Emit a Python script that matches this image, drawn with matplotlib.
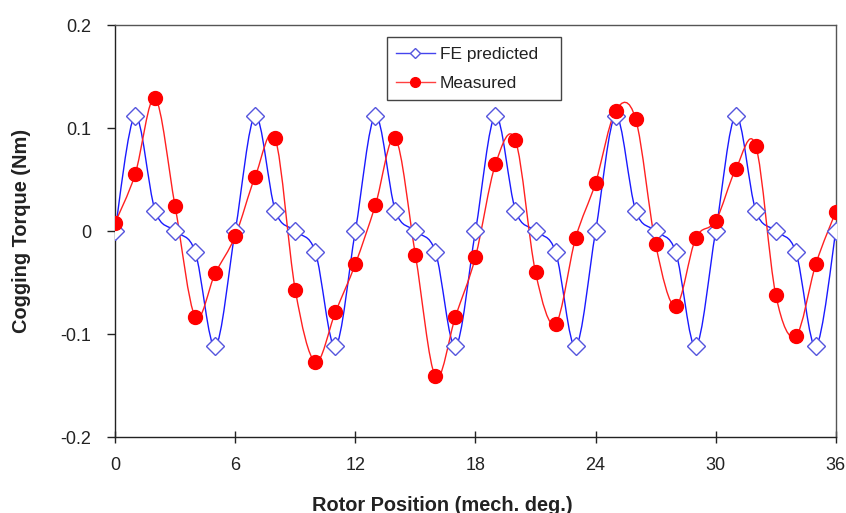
import matplotlib
matplotlib.use("Agg")
import matplotlib.pyplot as plt
from matplotlib.path import Path
from matplotlib.patches import PathPatch
import numpy as np

plt.rcParams['font.family'] = ['Liberation Sans', 'DejaVu Sans']

positions = list(range(0, 37))
fe_predicted = [0.0, 0.112, 0.02, 0.0, -0.02, -0.112,
                0.0, 0.112, 0.02, 0.0, -0.02, -0.112,
                0.0, 0.112, 0.02, 0.0, -0.02, -0.112,
                0.0, 0.112, 0.02, 0.0, -0.02, -0.112,
                0.0, 0.112, 0.02, 0.0, -0.02, -0.112,
                0.0, 0.112, 0.02, 0.0, -0.02, -0.112,
                0.0]
measured = [0.008, 0.055, 0.129, 0.024, -0.083, -0.041,
            -0.005, 0.053, 0.090, -0.057, -0.127, -0.079,
            -0.032, 0.025, 0.090, -0.023, -0.141, -0.083,
            -0.025, 0.065, 0.088, -0.040, -0.090, -0.007,
            0.047, 0.117, 0.109, -0.013, -0.073, -0.007,
            0.010, 0.060, 0.083, -0.062, -0.102, -0.032,
            0.019]
x_ticks = [0, 6, 12, 18, 24, 30, 36]
y_ticks = [-0.2, -0.1, 0, 0.1, 0.2]
y_tick_labels = ["-0.2", "-0.1", "0", "0.1", "0.2"]


def smooth_path(xs, ys):
    pts = np.column_stack([xs, ys]).astype(float)
    n = len(pts)
    verts = [pts[0]]
    codes = [Path.MOVETO]
    for i in range(n - 1):
        p0 = pts[i - 1] if i > 0 else pts[i]
        p1 = pts[i]
        p2 = pts[i + 1]
        p3 = pts[i + 2] if i + 2 < n else pts[i + 1]
        c1 = p1 + (p2 - p0) / 6.0
        c2 = p2 - (p3 - p1) / 6.0
        verts += [c1, c2, p2]
        codes += [Path.CURVE4] * 3
    return Path(verts, codes)


fig = plt.figure(figsize=(8.46, 5.13), dpi=100)
ax = fig.add_axes([0.136, 0.148, 0.852, 0.803])

ax.add_patch(PathPatch(smooth_path(positions, fe_predicted), facecolor='none',
                       edgecolor='#1a1aff', lw=1.0, zorder=2))
ax.add_patch(PathPatch(smooth_path(positions, measured), facecolor='none',
                       edgecolor='#ff2020', lw=1.0, zorder=2))
ax.plot(positions, fe_predicted, linestyle='none', marker='D', markersize=9,
        markerfacecolor='white', markeredgecolor='#5555dd', markeredgewidth=1.0,
        zorder=3)
ax.plot(positions, measured, linestyle='none', marker='o', markersize=10,
        markerfacecolor='#ff0000', markeredgecolor='#ff0000', zorder=4)

# legend proxies
h1, = ax.plot([], [], color='#4444ee', lw=1.0, marker='D', markersize=5,
              markerfacecolor='white', markeredgecolor='#5555dd')
h2, = ax.plot([], [], color='#ff4040', lw=1.0, marker='o', markersize=7,
              markerfacecolor='#ff0000', markeredgecolor='#ff0000')
leg = ax.legend([h1, h2], ['FE predicted', 'Measured'], loc='upper left',
                bbox_to_anchor=(0.377, 0.971, 0.241, 0.0), mode='expand',
                borderaxespad=0.0, frameon=True, fancybox=False,
                edgecolor='#444444', fontsize=12.5, handlelength=2.2,
                handletextpad=0.3, borderpad=0.55, labelspacing=0.8,
                framealpha=1)
leg.get_frame().set_linewidth(1.0)
for t in leg.get_texts():
    t.set_color('#222222')

ax.set_xlim(0, 36)
ax.set_ylim(-0.2, 0.2)
ax.set_xticks(x_ticks)
ax.set_yticks(y_ticks)
ax.set_yticklabels(y_tick_labels)
ax.tick_params(axis='x', direction='inout', length=8, width=1, labelsize=13,
               pad=10, colors='#222222')
ax.tick_params(axis='y', direction='out', length=6, width=1, labelsize=13,
               pad=11, colors='#222222')
for s in ax.spines.values():
    s.set_color('#555555')
    s.set_linewidth(1.0)
ax.spines['left'].set_color('#222222')
ax.spines['bottom'].set_color('#222222')

ax.set_xlabel('Rotor Position (mech. deg.)', fontsize=14.4, fontweight='bold',
              color='#222222', va='center')
ax.xaxis.set_label_coords(0.454, -0.165)
ax.set_ylabel('Cogging Torque (Nm)', fontsize=14.4, fontweight='bold',
              labelpad=21, color='#222222')

fig.savefig('out.png', dpi=100)
